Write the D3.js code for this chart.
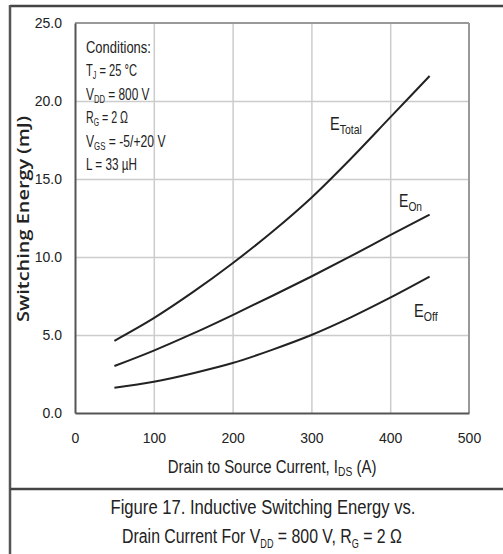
<!DOCTYPE html>
<html><head><meta charset="utf-8">
<script src="https://cdn.jsdelivr.net/npm/d3@7"></script>
<style>
body{margin:0;background:#fff;}
text{font-family:"Liberation Sans",Arial,sans-serif;fill:#222;}
</style></head>
<body><svg id="c" width="503" height="554"></svg>
<script>
const current = [50, 100, 150, 200, 250, 300, 350, 400, 450];
const eTotal = [4.63, 6.08, 7.76, 9.6, 11.6, 13.8, 16.3, 18.95, 21.6];
const eOn    = [3.01, 4.0, 5.1, 6.28, 7.5, 8.75, 10.05, 11.4, 12.72];
const eOff   = [1.62, 2.0, 2.55, 3.2, 4.05, 5.0, 6.13, 7.39, 8.74];
const xTicks = [0, 100, 200, 300, 400, 500];
const yTicks = [0, 5, 10, 15, 20, 25];
const conditions = [
  ["Conditions:"],
  ["T", "J", " = 25 °C"],
  ["V", "DD", " = 800 V"],
  ["R", "G", " = 2 Ω"],
  ["V", "GS", " = -5/+20 V"],
  ["L = 33 µH"]
];
const condWidths = [65, 51, 64, 42, 80, 51];

const svg = d3.select("#c");
const L = 75, R = 469, T = 23, B = 413;
const x = d3.scaleLinear().domain([0, 500]).range([L, R]);
const y = d3.scaleLinear().domain([0, 25]).range([B, T]);

// horizontal squeeze to mimic the condensed font of the original
function fit(sel, w, ax) {
  const bw = sel.node().getBBox().width;
  const k = w / bw;
  sel.attr("transform", `translate(${ax},0) scale(${k},1) translate(${-ax},0)`);
}

// outer frame
svg.append("line").attr("x1", 10).attr("x2", 503).attr("y1", 6).attr("y2", 6).attr("stroke", "#444").attr("stroke-width", 2.5);
svg.append("line").attr("x1", 10).attr("x2", 10).attr("y1", 5).attr("y2", 554).attr("stroke", "#555").attr("stroke-width", 2.5);
svg.append("line").attr("x1", 10).attr("x2", 503).attr("y1", 489).attr("y2", 489).attr("stroke", "#444").attr("stroke-width", 2.5);

// grid
svg.append("g").attr("transform", `translate(0,${B})`)
  .call(d3.axisBottom(x).tickValues(xTicks.slice(1, -1)).tickSize(-(B - T)).tickFormat(""))
  .call(g => g.select(".domain").remove())
  .selectAll("line").attr("stroke", "#cccccc").attr("stroke-width", 1.5);
svg.append("g").attr("transform", `translate(${L},0)`)
  .call(d3.axisLeft(y).tickValues(yTicks.slice(1, -1)).tickSize(-(R - L)).tickFormat(""))
  .call(g => g.select(".domain").remove())
  .selectAll("line").attr("stroke", "#cccccc").attr("stroke-width", 1.5);

// plot border
svg.append("line").attr("x1", L).attr("x2", R).attr("y1", T).attr("y2", T).attr("stroke", "#999").attr("stroke-width", 2);
svg.append("line").attr("x1", R).attr("x2", R).attr("y1", T).attr("y2", B).attr("stroke", "#999").attr("stroke-width", 2);

// axes
const xa = svg.append("g").attr("transform", `translate(0,${B})`)
  .call(d3.axisBottom(x).tickValues(xTicks).tickSize(0).tickPadding(20).tickFormat(d3.format("d")));
const ya = svg.append("g").attr("transform", `translate(${L},0)`)
  .call(d3.axisLeft(y).tickValues(yTicks).tickSize(0).tickPadding(13).tickFormat(d3.format(".1f")));
[xa, ya].forEach(a => {
  a.select(".domain").attr("stroke", "#555").attr("stroke-width", 2);
  a.selectAll("text").attr("font-size", 14).attr("fill", "#222")
    .attr("font-family", "'Liberation Sans',Arial,sans-serif");
});

// curves
const line = d3.line().x((d, i) => x(current[i])).y(d => y(d)).curve(d3.curveMonotoneX);
[eTotal, eOn, eOff].forEach(s => {
  svg.append("path").attr("d", line(s)).attr("fill", "none").attr("stroke", "#222").attr("stroke-width", 2);
});

// series labels
function sub(xp, yp, main, s, fs, sfs, w) {
  const t = svg.append("text").attr("x", xp).attr("y", yp).attr("font-size", fs);
  t.append("tspan").text(main);
  t.append("tspan").attr("font-size", sfs).attr("dy", 4).text(s);
  fit(t, w, xp);
  return t;
}
sub(330, 130, "E", "Total", 18, 13, 32);
sub(399, 207, "E", "On", 18, 13, 23);
sub(414, 317, "E", "Off", 18, 13, 24);

// conditions
conditions.forEach((c, i) => {
  const t = svg.append("text").attr("x", 86).attr("y", 53 + i * 23.5).attr("font-size", 17);
  t.append("tspan").text(c[0]);
  if (c.length === 3) {
    t.append("tspan").attr("font-size", 11).attr("dy", 3).text(c[1]);
    t.append("tspan").attr("dy", -3).text(c[2]);
  }
  fit(t, condWidths[i], 86);
});

// axis titles
const yt = svg.append("g").attr("transform", "translate(29,219) rotate(-90)");
const ytt = yt.append("text").attr("x", 0).attr("y", 0).attr("text-anchor", "middle")
  .attr("font-size", 16).attr("font-weight", 600).style("font-family", "'Open Sans',sans-serif").attr("fill", "#333")
  .text("Switching Energy (mJ)");
fit(ytt, 206, 0);

const xt = svg.append("text").attr("x", 272).attr("y", 473).attr("text-anchor", "middle").attr("font-size", 17.5);
xt.append("tspan").text("Drain to Source Current, I");
xt.append("tspan").attr("font-size", 12).attr("dy", 3).text("DS");
xt.append("tspan").attr("dy", -3).text(" (A)");
fit(xt, 209, 272);

// caption
const c1 = svg.append("text").attr("x", 263).attr("y", 514).attr("text-anchor", "middle").attr("font-size", 21).attr("fill", "#333")
  .text("Figure 17. Inductive Switching Energy vs.");
fit(c1, 305, 263);
const c2 = svg.append("text").attr("x", 262).attr("y", 543).attr("text-anchor", "middle").attr("font-size", 21).attr("fill", "#333");
c2.append("tspan").text("Drain Current For V");
c2.append("tspan").attr("font-size", 12).attr("dy", 5).text("DD");
c2.append("tspan").attr("dy", -5).text(" = 800 V, R");
c2.append("tspan").attr("font-size", 12).attr("dy", 5).text("G");
c2.append("tspan").attr("dy", -5).text(" = 2 Ω");
fit(c2, 280, 262);
</script></body></html>
